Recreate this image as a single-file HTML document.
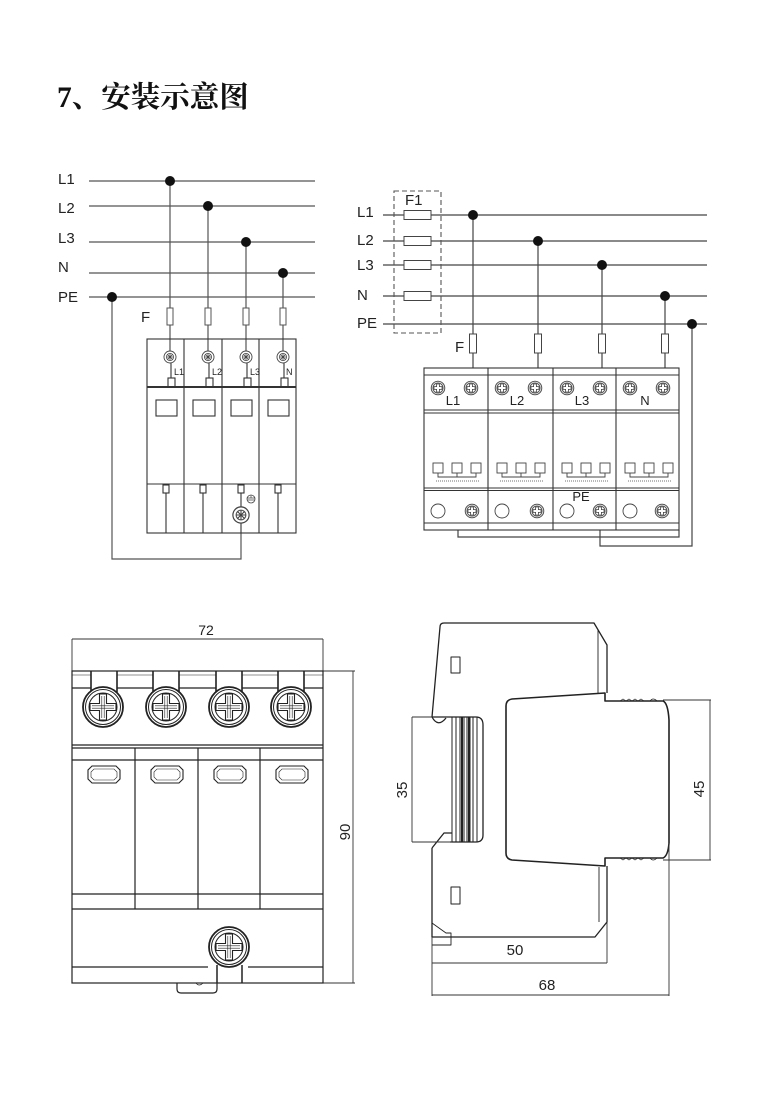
<!DOCTYPE html>
<html><head><meta charset="utf-8">
<style>
html,body{margin:0;padding:0;background:#fff;}
svg{display:block;}
text{font-family:"Liberation Sans",sans-serif;fill:#222;}
</style></head><body>
<svg width="775" height="1113" viewBox="0 0 775 1113" xmlns="http://www.w3.org/2000/svg">
<defs>
  <g id="ts">
    <circle r="6" fill="#fff" stroke="#444" stroke-width="0.9"/>
    <circle r="3.6" fill="none" stroke="#555" stroke-width="0.8"/>
    <path d="M-3.6,0H3.6M0,-3.6V3.6M-2.6,-2.6L2.6,2.6M-2.6,2.6L2.6,-2.6" stroke="#444" stroke-width="0.8"/>
  </g>
  <g id="sc">
    <circle r="6.8" fill="#e4e4e4" stroke="#444" stroke-width="0.9"/>
    <circle r="5" fill="#fff" stroke="#444" stroke-width="0.8"/>
    <path d="M-1.4,-4 h2.8 v2.6 h2.6 v2.8 h-2.6 v2.6 h-2.8 v-2.6 h-2.6 v-2.8 h2.6z" fill="#fff" stroke="#444" stroke-width="0.8"/>
  </g>
  <g id="bs">
    <circle r="20" fill="#fff" stroke="#222" stroke-width="1.8"/>
    <circle r="17.5" fill="none" stroke="#222" stroke-width="1"/>
    <circle r="14" fill="none" stroke="#222" stroke-width="1"/>
    <path d="M-3.5,-13 h7 v9.5 h9.5 v7 h-9.5 v9.5 h-7 v-9.5 h-9.5 v-7 h9.5z" fill="#fff" stroke="#222" stroke-width="1.1"/>
    <path d="M-1.2,-11 V11 M1.2,-11 V11 M-11,-1.2 H11 M-11,1.2 H11" stroke="#222" stroke-width="0.6"/>
  </g>
</defs>

<!-- Title -->
<text x="57" y="107" font-size="29.5" font-weight="bold" style="font-family:'Liberation Serif','Noto Serif CJK SC',serif;fill:#111">7、安装示意图</text>

<!-- ================= TOP LEFT ================= -->
<g font-size="15">
  <text x="58" y="184">L1</text>
  <text x="58" y="213">L2</text>
  <text x="58" y="243">L3</text>
  <text x="58" y="272">N</text>
  <text x="58" y="302">PE</text>
  <text x="141" y="322">F</text>
</g>
<g stroke="#555" stroke-width="1.2" fill="none">
  <path d="M89,181H315M89,206H315M89,242H315M89,273H315M89,297H315"/>
  <path d="M170,181V351M208,206V351M246,242V351M283,273V351"/>
  <path d="M112,297V559H241V533"/>
</g>
<g fill="#111">
  <circle cx="170" cy="181" r="5"/><circle cx="208" cy="206" r="5"/>
  <circle cx="246" cy="242" r="5"/><circle cx="283" cy="273" r="5"/>
  <circle cx="112" cy="297" r="5"/>
</g>
<g fill="#fff" stroke="#555" stroke-width="1">
  <rect x="167" y="308" width="6" height="17"/><rect x="205" y="308" width="6" height="17"/>
  <rect x="243" y="308" width="6" height="17"/><rect x="280" y="308" width="6" height="17"/>
</g>
<!-- device -->
<g stroke="#333" stroke-width="1.1" fill="none">
  <rect x="147" y="339" width="149" height="194"/>
  <path d="M184,339V533M222,339V533M259,339V533"/>
  <path d="M147,387H296" stroke-width="2"/>
  <path d="M147,484H296"/>
  <rect x="156" y="400" width="21" height="16"/><rect x="193" y="400" width="22" height="16"/>
  <rect x="231" y="400" width="21" height="16"/><rect x="268" y="400" width="21" height="16"/>
  <path d="M171,363V378M209,363V378M247,363V378M284,363V378"/>
  <rect x="168" y="378" width="7" height="9"/><rect x="206" y="378" width="7" height="9"/>
  <rect x="244" y="378" width="7" height="9"/><rect x="281" y="378" width="7" height="9"/>
  <rect x="163" y="485" width="6" height="8"/><rect x="200" y="485" width="6" height="8"/>
  <rect x="238" y="485" width="6" height="8"/><rect x="275" y="485" width="6" height="8"/>
  <path d="M166,493V533M203,493V533M241,493V533M278,493V533"/>
</g>
<use href="#ts" x="170" y="357"/><use href="#ts" x="208" y="357"/>
<use href="#ts" x="246" y="357"/><use href="#ts" x="283" y="357"/>
<g transform="translate(241,515) scale(1.35)"><use href="#ts"/></g>
<circle cx="251" cy="499" r="4" fill="#fff" stroke="#444" stroke-width="0.8"/>
<path d="M247.5,498H254.5M247.5,500H254.5M251,495.5V498" stroke="#444" stroke-width="0.7"/>
<g font-size="9">
  <text x="174" y="375">L1</text><text x="212" y="375">L2</text>
  <text x="250" y="375">L3</text><text x="286" y="375">N</text>
</g>

<!-- ================= TOP RIGHT ================= -->
<g font-size="15">
  <text x="357" y="217">L1</text>
  <text x="357" y="245">L2</text>
  <text x="357" y="270">L3</text>
  <text x="357" y="300">N</text>
  <text x="357" y="328">PE</text>
  <text x="405" y="205">F1</text>
  <text x="455" y="352">F</text>
</g>
<g stroke="#444" stroke-width="1.2" fill="none">
  <path d="M383,215H707M383,241H707M383,265H707M383,296H707M383,324H707"/>
  <path d="M473,215V368M538,241V368M602,265V368M665,296V368"/>
  <path d="M692,324V546H600V530"/>
  <path d="M458,530V537H679V530"/>
</g>
<rect x="394" y="191" width="47" height="142" fill="none" stroke="#555" stroke-width="1.1" stroke-dasharray="5,3"/>
<g fill="#fff" stroke="#444" stroke-width="1">
  <rect x="404" y="210.5" width="27" height="9"/><rect x="404" y="236.5" width="27" height="9"/>
  <rect x="404" y="260.5" width="27" height="9"/><rect x="404" y="291.5" width="27" height="9"/>
  <rect x="469.5" y="334" width="7" height="19"/><rect x="534.5" y="334" width="7" height="19"/>
  <rect x="598.5" y="334" width="7" height="19"/><rect x="661.5" y="334" width="7" height="19"/>
</g>
<g fill="#111">
  <circle cx="473" cy="215" r="5"/><circle cx="538" cy="241" r="5"/>
  <circle cx="602" cy="265" r="5"/><circle cx="665" cy="296" r="5"/>
  <circle cx="692" cy="324" r="5"/>
</g>
<g stroke="#333" stroke-width="1.1" fill="none">
  <rect x="424" y="368" width="255" height="162"/>
  <path d="M488,368V530M553,368V530M616,368V530"/>
  <path d="M424,375H679M424,410H679M424,413H679M424,488H679M424,490.5H679M424,523H679"/>
</g>
<g stroke="#444" stroke-width="0.9" fill="none">
  <!-- module squares -->
  <rect x="433" y="463" width="10" height="10"/><rect x="452" y="463" width="10" height="10"/><rect x="471" y="463" width="10" height="10"/>
  <rect x="497" y="463" width="10" height="10"/><rect x="516" y="463" width="10" height="10"/><rect x="535" y="463" width="10" height="10"/>
  <rect x="562" y="463" width="10" height="10"/><rect x="581" y="463" width="10" height="10"/><rect x="600" y="463" width="10" height="10"/>
  <rect x="625" y="463" width="10" height="10"/><rect x="644" y="463" width="10" height="10"/><rect x="663" y="463" width="10" height="10"/>
  <path d="M438,473V477H476V473M457,473V477"/>
  <path d="M502,473V477H540V473M521,473V477"/>
  <path d="M567,473V477H605V473M586,473V477"/>
  <path d="M630,473V477H668V473M649,473V477"/>
  <path d="M436,481H479M500,481H543M565,481H608M628,481H671" stroke-dasharray="1,1" stroke-width="0.7"/>
  <circle cx="438" cy="511" r="7" fill="#fff"/><circle cx="502" cy="511" r="7" fill="#fff"/>
  <circle cx="567" cy="511" r="7" fill="#fff"/><circle cx="630" cy="511" r="7" fill="#fff"/>
</g>
<use href="#sc" x="438" y="388"/><use href="#sc" x="471" y="388"/>
<use href="#sc" x="502" y="388"/><use href="#sc" x="535" y="388"/>
<use href="#sc" x="567" y="388"/><use href="#sc" x="600" y="388"/>
<use href="#sc" x="630" y="388"/><use href="#sc" x="663" y="388"/>
<use href="#sc" x="472" y="511"/><use href="#sc" x="537" y="511"/>
<use href="#sc" x="600" y="511"/><use href="#sc" x="662" y="511"/>
<g font-size="13" text-anchor="middle">
  <text x="453" y="405">L1</text><text x="517" y="405">L2</text>
  <text x="582" y="405">L3</text><text x="645" y="405">N</text>
  <text x="581" y="501">PE</text>
</g>

<!-- ================= BOTTOM LEFT ================= -->
<text x="206" y="635" font-size="14" text-anchor="middle">72</text>
<g stroke="#333" stroke-width="0.9" fill="none">
  <path d="M72,639H323M72,639V671M323,639V671"/>
  <path d="M323,671H355M323,983H355M353,671V983"/>
</g>
<text transform="translate(350,832) rotate(-90)" font-size="15" text-anchor="middle">90</text>
<g stroke="#222" stroke-width="1.2" fill="none">
  <rect x="72" y="671" width="251" height="312"/>
  <path d="M72,688H91M117,688H153M179,688H216M242,688H278M304,688H323"/>
  <path d="M72,675H91M117,675H153M179,675H216M242,675H278M304,675H323" stroke-width="0.6"/>
  <path d="M91,671V692M117,671V692M153,671V692M179,671V692M216,671V692M242,671V692M278,671V692M304,671V692" stroke-width="1.6"/>
  <path d="M72,745H323M72,748H323M72,760H323"/>
  <path d="M135,748V909M198,748V909M260,748V909"/>
  <path d="M72,894H323M72,909H323M72,967H208M248,967H323"/>
  <path d="M217,965V983M242,965V983" stroke-width="1.5"/>
  <path d="M177,983V989Q177,993 181,993H213Q217,993 217,989V983"/>
  <path d="M196,983Q199,987 203,983" stroke-width="0.7"/>
</g>
<g stroke="#222" stroke-width="1.1" fill="#fff">
  <path d="M92,766H116L120,770V779L116,783H92L88,779V770Z"/>
  <path d="M155,766H179L183,770V779L179,783H155L151,779V770Z"/>
  <path d="M218,766H242L246,770V779L242,783H218L214,779V770Z"/>
  <path d="M280,766H304L308,770V779L304,783H280L276,779V770Z"/>
</g>
<g stroke="#222" stroke-width="0.6" fill="none">
  <path d="M94,769H114L117,772V777L114,780H94L91,777V772Z"/>
  <path d="M157,769H177L180,772V777L177,780H157L154,777V772Z"/>
  <path d="M220,769H240L243,772V777L240,780H220L217,777V772Z"/>
  <path d="M282,769H302L305,772V777L302,780H282L279,777V772Z"/>
</g>
<use href="#bs" x="103" y="707"/><use href="#bs" x="166" y="707"/>
<use href="#bs" x="229" y="707"/><use href="#bs" x="291" y="707"/>
<use href="#bs" x="229" y="947"/>

<!-- ================= BOTTOM RIGHT ================= -->
<g stroke="#222" stroke-width="1.3" fill="none" stroke-linejoin="round">
  <!-- upper part -->
  <path d="M432,717L440,627Q440,623 444,623L594,623L607,645V693"/>
  <path d="M598,630V693" stroke-width="0.9"/>
  <!-- front face -->
  <path d="M506,706Q506,700 512,699L605,693V701H663Q668,703 669,720V843Q668,856 663,858H605V866L512,860Q506,859 506,853Z" stroke-width="1.6"/>
  <path d="M620,701l3,-2l3,2l3,-2l3,2l3,-2l3,2l3,-2l3,2M640,701h10q3,-4 7,0" stroke-width="0.7"/>
  <path d="M620,858l3,2l3,-2l3,2l3,-2l3,2l3,-2l3,2l3,-2M640,858h10q3,4 7,0" stroke-width="0.7"/>
  <!-- lower part -->
  <path d="M607,866V922L595,937H432V848"/>
  <path d="M599,867V922" stroke-width="0.9"/>
  <!-- DIN clip -->
  <path d="M432,717Q438,728 446,718"/>
  <path d="M432,717H476Q483,717 483,725V835Q483,842 476,842H450"/>
  <path d="M432,848L444,833H452"/>
  <path d="M452,717V842M456,717V842M460,717V842M464,717V842M467,717V842M470,717V842M473,717V842M477,717V842" stroke-width="1"/>
  <path d="M462,717V842M469,717V842" stroke-width="2"/>
  <!-- bottom-left small detail -->
  <path d="M432,923L446,933H451V945H432" stroke-width="0.9"/>
  <!-- small rects -->
  <rect x="451" y="657" width="9" height="16" stroke-width="1"/>
  <rect x="451" y="887" width="9" height="17" stroke-width="1"/>
</g>
<g stroke="#333" stroke-width="0.9" fill="none">
  <path d="M412,717H432M412,842H452M412,717V842"/>
  <path d="M663,700H711M663,860H711M710,700V860"/>
  <path d="M432,937V996M607,922V963M432,963H607"/>
  <path d="M432,995H669M669,843V996"/>
</g>
<text transform="translate(407,790) rotate(-90)" font-size="15" text-anchor="middle">35</text>
<text transform="translate(704,789) rotate(-90)" font-size="15" text-anchor="middle">45</text>
<text x="515" y="955" font-size="15" text-anchor="middle">50</text>
<text x="547" y="990" font-size="15" text-anchor="middle">68</text>
</svg>
</body></html>
